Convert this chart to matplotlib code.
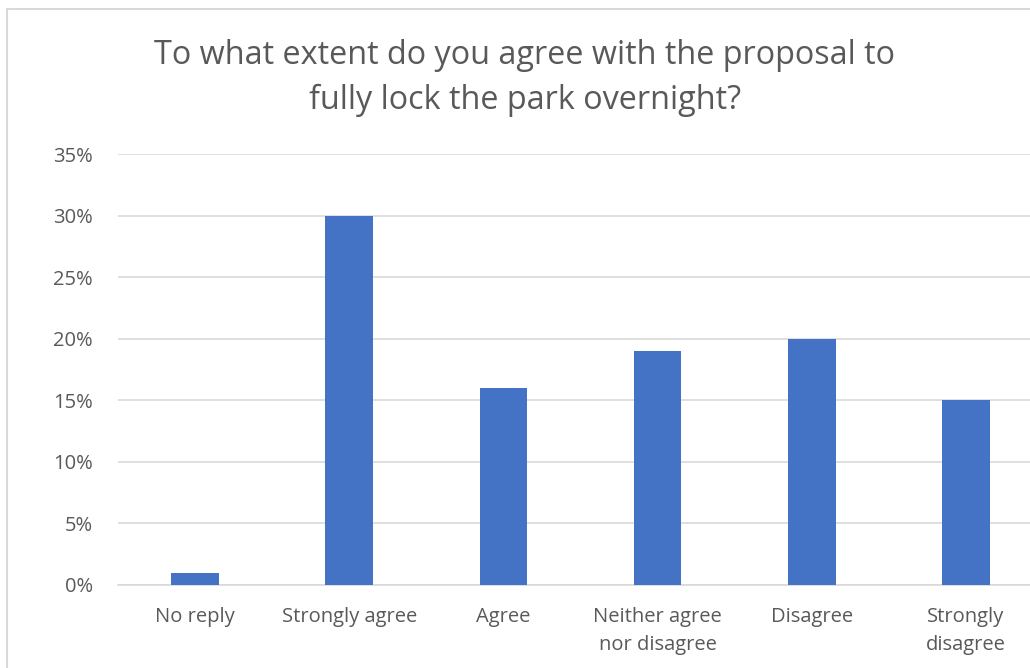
import matplotlib
matplotlib.use("Agg")
import matplotlib.pyplot as plt
from matplotlib.patches import Rectangle
from matplotlib.ticker import PercentFormatter

categories = ["No reply", "Strongly agree", "Agree",
              "Neither agree\nnor disagree", "Disagree", "Strongly\ndisagree"]
values = [1, 30, 16, 19, 20, 15]
y_ticks = [0, 5, 10, 15, 20, 25, 30, 35]
title = "To what extent do you agree with the proposal to\nfully lock the park overnight?"

plt.rcParams["font.family"] = ["Open Sans", "DejaVu Sans"]
text_color = "#595959"
grid_color = "#D9D9D9"
bar_color = "#4472C4"

W, H = 1030, 668
fig = plt.figure(figsize=(W / 100, H / 100), dpi=100)

# chart frame
fig.add_artist(Rectangle((7 / W, -0.1), 1.2, 1 - 9 / H + 0.1, transform=fig.transFigure,
                         fill=False, edgecolor=grid_color, linewidth=1.5))

ax = fig.add_axes([118 / W, (H - 585) / H, (1043 - 118) / W, (585 - 154) / H])
x = range(len(categories))
ax.bar(x, values, width=0.31, color=bar_color, zorder=3)
ax.set_xlim(-0.5, len(categories) - 0.5)
ax.set_ylim(0, 35)
ax.set_yticks(y_ticks)
ax.yaxis.set_major_formatter(PercentFormatter(decimals=0))
ax.set_xticks(list(x))
ax.set_xticklabels(categories)
ax.grid(axis="y", color=grid_color, linewidth=1.2, zorder=0)
for s in ["top", "right", "left"]:
    ax.spines[s].set_visible(False)
ax.spines["bottom"].set_color(grid_color)
ax.spines["bottom"].set_linewidth(1.2)
ax.tick_params(axis="both", length=0, labelsize=14.5, colors=text_color)
ax.tick_params(axis="y", pad=18)
ax.tick_params(axis="x", pad=16)
for lbl in ax.get_xticklabels():
    lbl.set_linespacing(1.5)

fig.text(525 / W, 1 - 78 / H, title, ha="center", va="center", fontsize=23.3,
         color=text_color, linespacing=1.43)

fig.savefig("out.png", dpi=100)
